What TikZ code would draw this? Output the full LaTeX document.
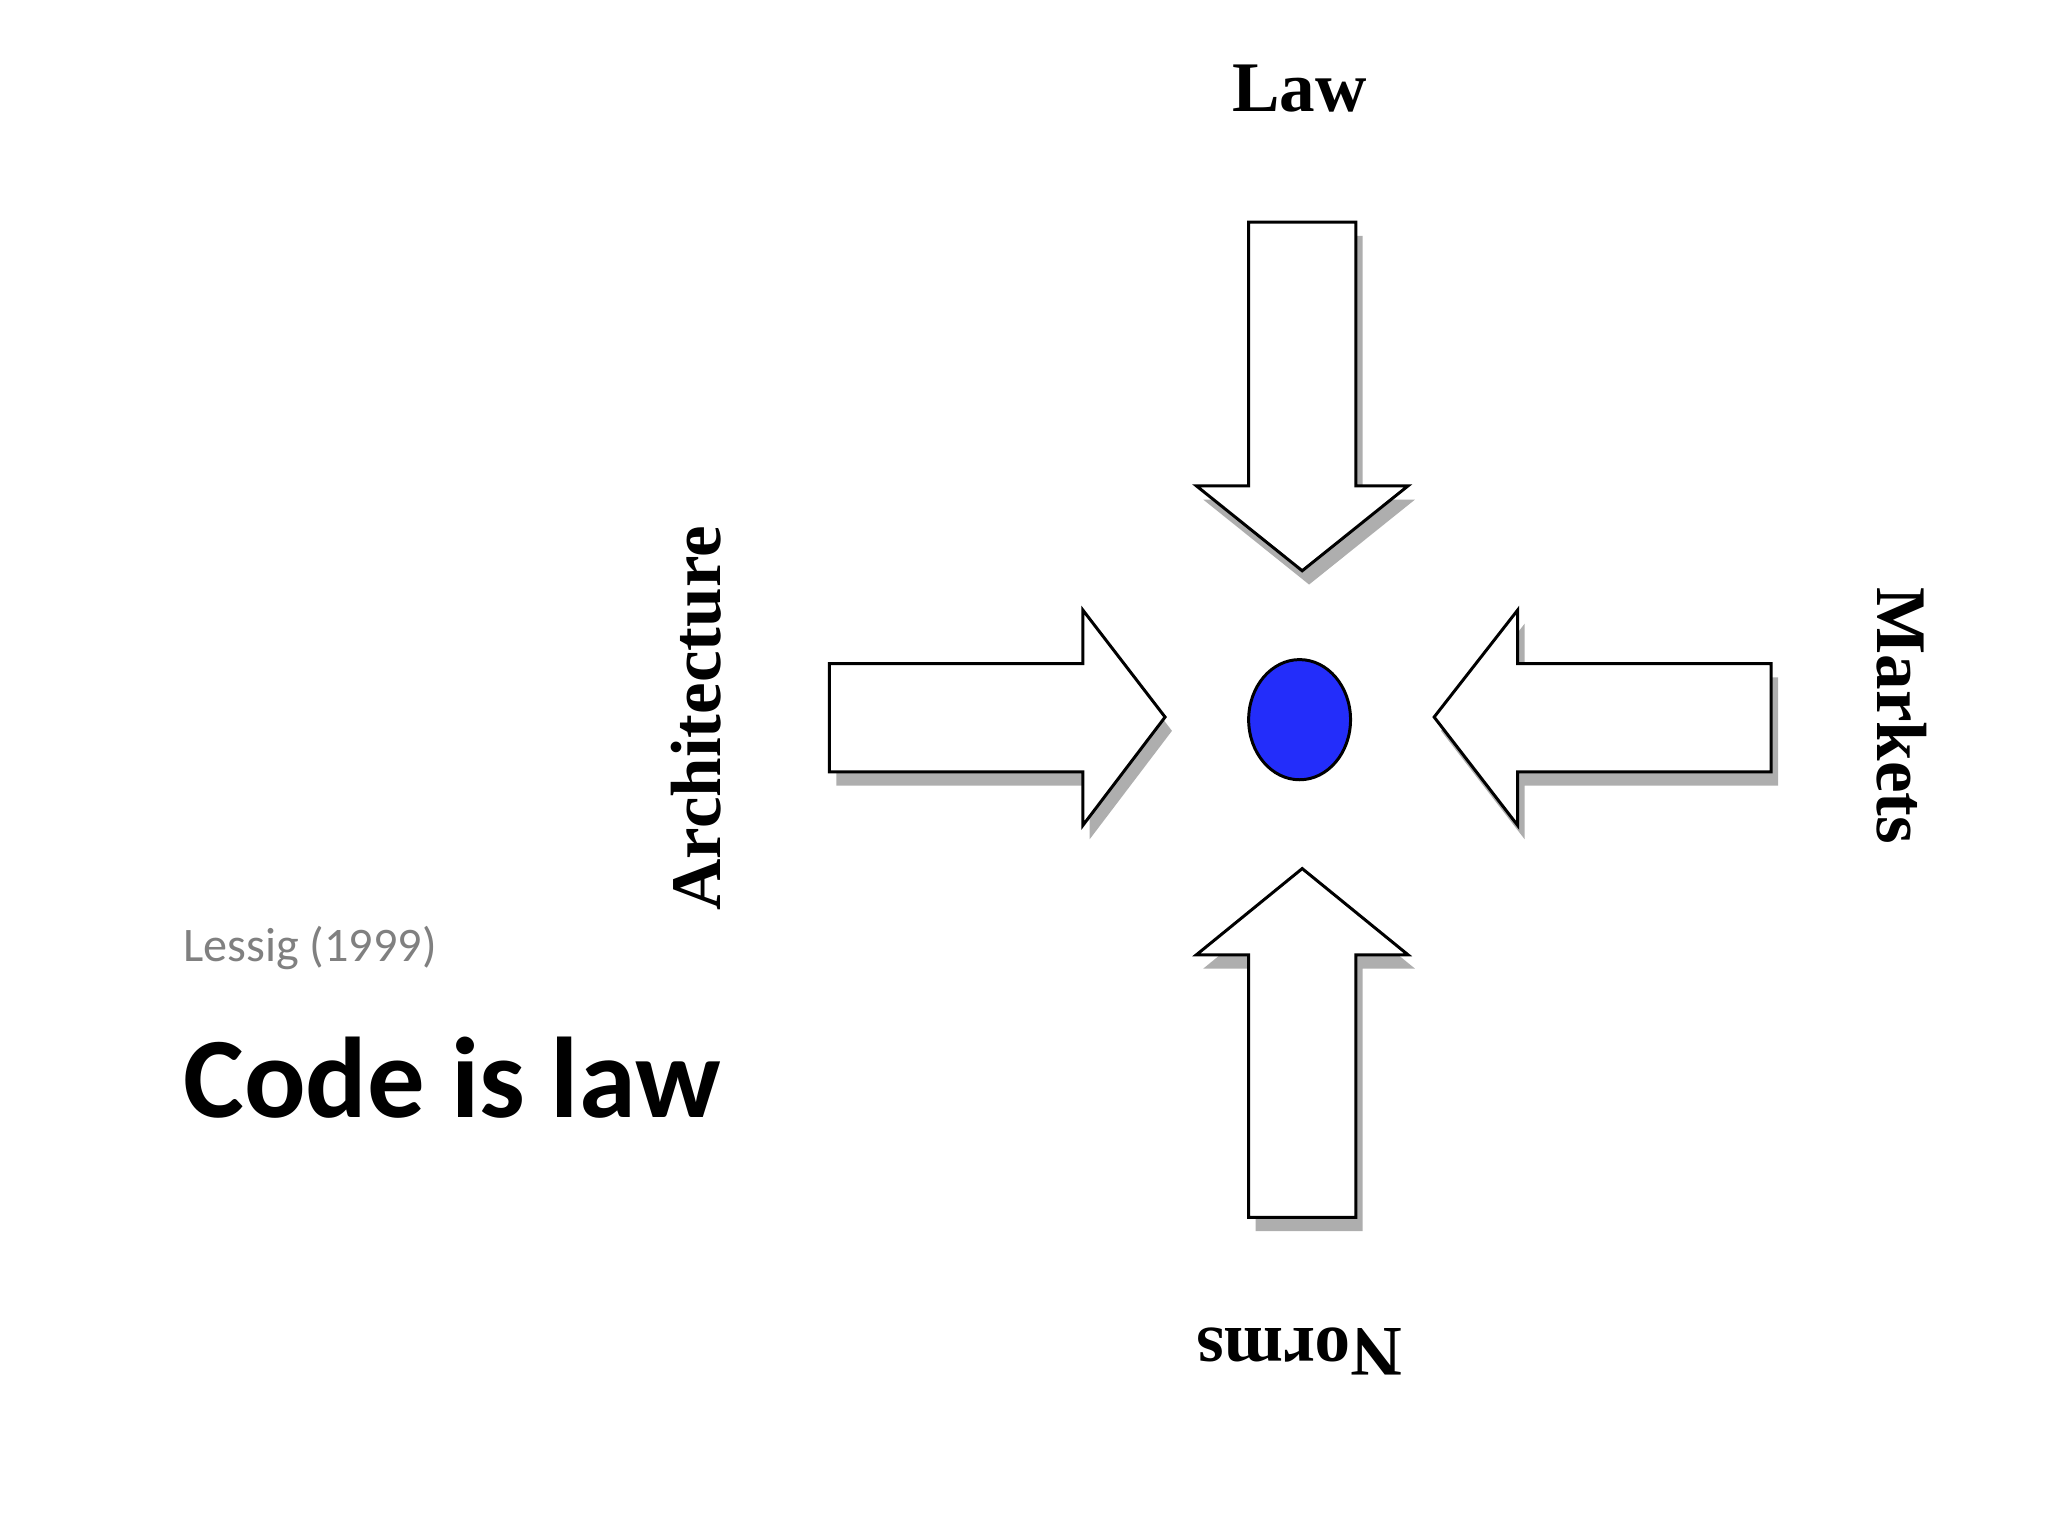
\documentclass[tikz,border=0pt]{standalone}
\usepackage{fontspec}
\setmainfont{Liberation Serif}
\newfontfamily\calfont{Carlito}
\usetikzlibrary{shadows}
\begin{document}
\begin{tikzpicture}[x=0.02cm,y=-0.02cm,
  arr/.style={draw=black,fill=white,line width=1.3pt,line join=miter,
    drop shadow={shadow xshift=3pt,shadow yshift=-6pt,opacity=0.45,fill=black!70}},
  lab/.style={font=\fontsize{31}{36}\selectfont\bfseries,inner sep=0pt}]
\useasboundingbox (0,0) rectangle (1568,1176);
\fill[white] (0,0) rectangle (1568,1176);
\path[arr] (956,170) -- (1038,170) -- (1038,372) -- (1078,372) -- (997,437) -- (916,372) -- (956,372) -- cycle;
\path[arr] (635,508) -- (829,508) -- (829,467) -- (892,549) -- (829,632) -- (829,591) -- (635,591) -- cycle;
\path[arr] (1356,508) -- (1162,508) -- (1162,467) -- (1098,549) -- (1162,632) -- (1162,591) -- (1356,591) -- cycle;
\path[arr] (956,932) -- (1038,932) -- (1038,731) -- (1078,731) -- (997,665) -- (916,731) -- (956,731) -- cycle;
\path[draw=black,line width=1.3pt,fill={rgb,255:red,35;green,45;blue,250}] (995,551) ellipse [x radius=39,y radius=46];
\node[lab] (law) at (995,68) {Law};
\node[lab,rotate=90] (arch) at (533,550) {Architecture};
\node[lab,rotate=-90] (mkt) at (1456,548) {Markets};
\node[lab,rotate=180] (norms) at (995,1035) {Norms};
\node[anchor=west,inner sep=0pt,text=black!50,font=\calfont\fontsize{21}{25}\selectfont] (les) at (140,726) {Lessig (1999)};
\node[anchor=west,inner sep=0pt,font=\calfont\bfseries\fontsize{50}{60}\selectfont] (code) at (140,825) {Code is law};
\end{tikzpicture}
\end{document}
